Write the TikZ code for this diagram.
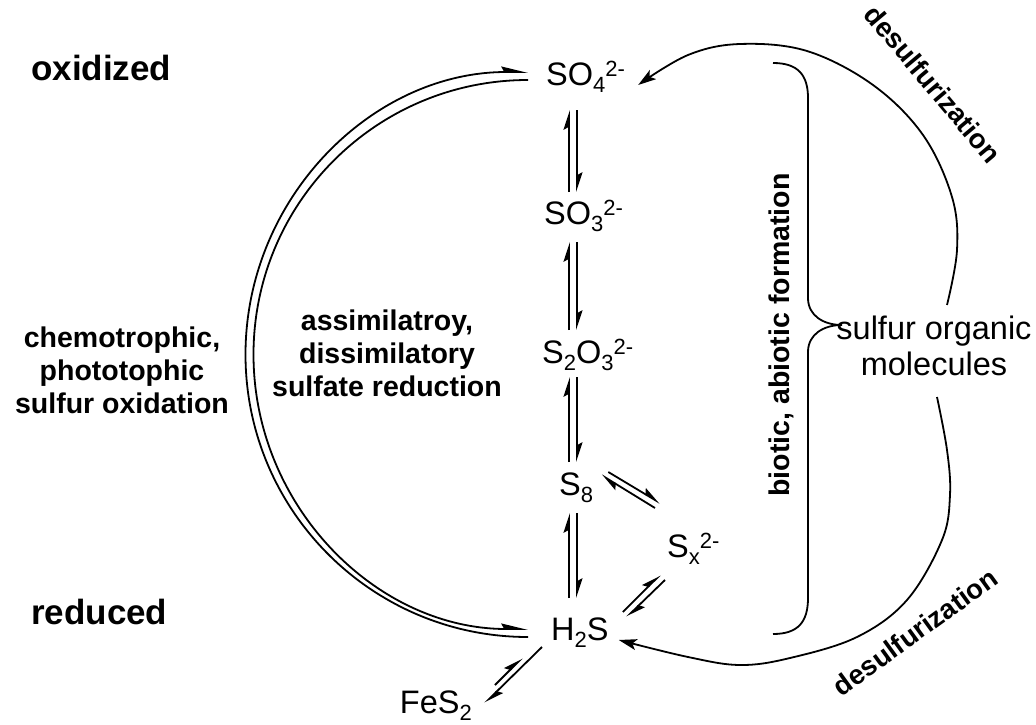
\documentclass[tikz,border=0pt]{standalone}
\usepackage{fontspec}
\setmainfont{Liberation Sans}
\usetikzlibrary{arrows.meta,calc}
\newcommand\chsub[1]{\raisebox{-7pt}{\fontsize{22}{22}\selectfont #1}}
\newcommand\chsup[1]{\raisebox{8.5pt}{\fontsize{22}{22}\selectfont #1}}
\newcommand\vpair[4]{%
  \draw[eq] ($(axL |- #3.base)+(0,-#4)$) -- ($(axL |- #1.base)+(0,#2)$);
  \draw[eq] ($(axR |- #1.base)+(0,#2)$) -- ($(axR |- #3.base)+(0,-#4)$);
}
\begin{document}
\begin{tikzpicture}[x=1pt,y=-1pt,
  lbl/.style={font=\fontsize{28.5}{33}\selectfont\bfseries, align=center, inner sep=0pt},
  big/.style={font=\fontsize{35}{40}\selectfont\bfseries, inner sep=0pt},
  chem/.style={font=\fontsize{32.5}{36}\selectfont, inner sep=0pt},
  dsl/.style={font=\fontsize{27.5}{30}\selectfont\bfseries, inner sep=0pt},
  ln/.style={line width=1.8pt},
  eq/.style={ln, -{Stealth[left, length=17pt, width=11pt, inset=3pt]}},
  eqbig/.style={ln, -{Stealth[left, length=23pt, width=11pt, inset=3pt]}},
  arr/.style={ln, -{Stealth[length=18pt, width=11pt, inset=4pt]}},
  brace/.style={ln}
]
\useasboundingbox (0,0) rectangle (1036,725);
\fill[white] (0,0) rectangle (1036,725);

% side labels
\node[big, anchor=west] (ox) at (31,68) {oxidized};
\node[big, anchor=west] (red) at (31,612) {reduced};
\node[lbl] (chemo) at (122,370) {chemotrophic,\\phototophic\\sulfur oxidation};
\node[lbl] (assim) at (387,353) {assimilatroy,\\dissimilatory\\sulfate reduction};

% species
\node[chem, anchor=base west] (so4) at (546,85) {SO\chsub{4}\chsup{2-}};
\node[chem, anchor=base west] (so3) at (544,224) {SO\chsub{3}\chsup{2-}};
\node[chem, anchor=base west] (s2o3) at (542,363) {S\chsub{2}O\chsub{3}\chsup{2-}};
\node[chem, anchor=base west] (s8) at (559,495) {S\chsub{8}};
\node[chem, anchor=base west] (sx) at (667,557) {S\chsub{x}\chsup{2-}};
\node[chem, anchor=base west] (h2s) at (551,640) {H\chsub{2}S};
\node[chem, anchor=base east] (fes2) at (472,713) {FeS\chsub{2}};

% vertical equilibria
\coordinate (axL) at (569,0);
\coordinate (axR) at (577,0);
\vpair{so4}{25}{so3}{32}
\vpair{so3}{18}{s2o3}{33}
\vpair{s2o3}{14}{s8}{33}
\vpair{s8}{18}{h2s}{42}

% S8 <-> Sx
\draw[eq] ($(s8.base east)+(15,-23)$) -- ($(sx.base west)+(-7,-54)$);
\draw[eq] ($(sx.base west)+(-12,-49)$) -- ($(s8.base east)+(8,-20)$);
% Sx <-> H2S
\draw[eq] ($(h2s.base east)+(14,-28)$) -- ($(sx.base west)+(-7,18)$);
\draw[eq] ($(sx.base west)+(-2,23)$) -- ($(h2s.base east)+(18,-23)$);
% H2S <-> FeS2
\draw[eq] ($(fes2.base east)+(23,-28)$) -- ($(h2s.base west)+(-29,18)$);
\draw[eq] ($(h2s.base west)+(-9,7)$) -- ($(fes2.base east)+(13,-10)$);

% big double arc
\draw[eqbig] ($(h2s.base west)+(-23,-3)$) arc[start angle=90, end angle=270, radius=282.5];
\draw[eqbig] ($(so4.base west)+(-18,-5)$) arc[start angle=270, end angle=90, radius=274.5];

% brace
\draw[brace] (773,63) .. controls (798,63) and (808,75) .. (808,98)
  -- (808,298) .. controls (808,316) and (824,325) .. (842,325)
  .. controls (824,325) and (808,334) .. (808,352)
  -- (808,598) .. controls (808,622) and (798,634) .. (773,634);
\node[lbl, rotate=90] (bio) at (781,335) {biotic, abiotic formation};
\node[chem, align=center] (som) at (934,346) {sulfur organic\\molecules};

% desulfurization
\coordinate (d1s) at (947,305);
\coordinate (d2s) at (937,397);
\draw[arr] plot[smooth, tension=0.6] coordinates {(d1s) (957,250) (952,197) (923,135) (873,85) (807,51) (740,44) (688,55) ($(so4.base east)+(13,0)$)};
\draw[arr] plot[smooth, tension=0.6] coordinates {(d2s) (947,450) (950,495) (942,540) (907,600) (857,637) (790,658) (740,665) (688,657) ($(h2s.base east)+(10,0)$)};
\node[dsl, rotate=-50] (ds1) at (933,84) {desulfurization};
\node[dsl, rotate=36] (ds2) at (915,632) {desulfurization};
\end{tikzpicture}
\end{document}
